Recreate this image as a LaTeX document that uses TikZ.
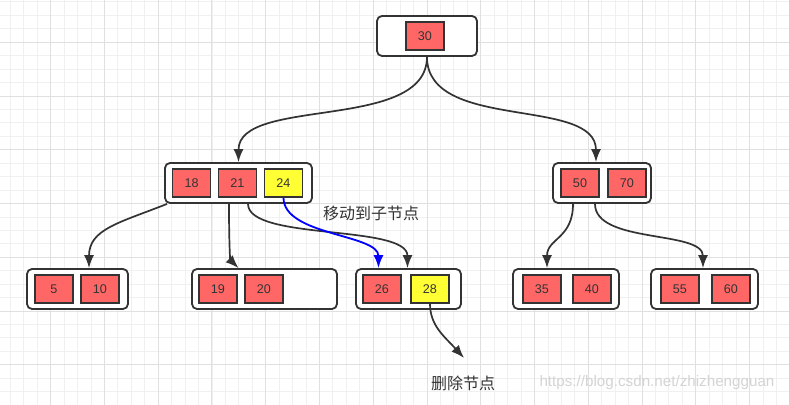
\documentclass[tikz,border=0pt]{standalone}
\usepackage{fontspec}
\setmainfont{Liberation Sans}
\newfontfamily\cjk{Noto Sans CJK SC}
\usetikzlibrary{arrows.meta}
\tikzset{
  >={Latex[length=6.5pt,width=5pt]},
  page/.style ={draw=ink, line width=0.9pt, rounded corners=2.5pt, fill=white,
                minimum height=20pt, inner sep=0pt},
  key/.style  ={draw=ink, line width=0.65pt, fill=keyred, minimum width=19pt,
                minimum height=14pt, inner sep=0pt, text=ink,
                font=\fontsize{6.3}{7}\selectfont},
  hot/.style  ={key, fill=keyyel},
  link/.style ={draw=ink, line width=0.85pt, ->},
  move/.style ={draw=blue, line width=0.9pt, ->},
  note/.style ={text=ink, font=\cjk\fontsize{8}{9}\selectfont},
}
\definecolor{keyred}{RGB}{255,102,102}
\definecolor{keyyel}{RGB}{255,255,51}
\definecolor{ink}{RGB}{51,51,51}
\definecolor{gridminor}{RGB}{240,240,240}
\definecolor{gridmajor}{RGB}{224,224,224}

\begin{document}
\begin{tikzpicture}[x=0.5pt, y=-0.5pt]
  \useasboundingbox (0,0) rectangle (789,405);
  \fill[white] (0,0) rectangle (789,405);

  % grid
  \foreach \i in {0,...,58}
    \draw[gridminor, line width=0.5pt] (10.4+13.44*\i,0) -- (10.4+13.44*\i,405);
  \foreach \i in {0,...,29}
    \draw[gridminor, line width=0.5pt] (0,2+13.44*\i) -- (789,2+13.44*\i);
  \foreach \i in {0,...,13}
    \draw[gridmajor, line width=0.5pt] (50.7+53.76*\i,0) -- (50.7+53.76*\i,405);
  \foreach \i in {0,...,6}
    \draw[gridmajor, line width=0.5pt] (0,42.3+53.76*\i) -- (789,42.3+53.76*\i);

  % root
  \node[page, minimum width=50pt] (root) at (427,36) {};
  \node[key] (k30) at (425,36) {30};

  % second level
  \node[page, minimum width=73.5pt] (n1) at (238.5,183) {};
  \node[key] (k18) at (191.7,183) {18};
  \node[key] (k21) at (237.5,183) {21};
  \node[hot] (k24) at (283.5,183) {24};

  \node[page, minimum width=49pt] (n2) at (602,183) {};
  \node[key] (k50) at (580,183) {50};
  \node[key] (k70) at (627,183) {70};

  % leaves
  \node[page, minimum width=50.5pt] (leaf1) at (77.5,289) {};
  \node[key] (k5)  at (54,289) {5};
  \node[key] (k10) at (100,289) {10};

  \node[page, minimum width=72.5pt] (leaf2) at (264.5,289) {};
  \node[key] (k19) at (218,289) {19};
  \node[key] (k20) at (264,289) {20};

  \node[page, minimum width=52.5pt] (leaf3) at (408.5,289) {};
  \node[key] (k26) at (382,289) {26};
  \node[hot] (k28) at (430,289) {28};

  \node[page, minimum width=53pt] (leaf4) at (566,289) {};
  \node[key] (k35) at (542,289) {35};
  \node[key] (k40) at (592,289) {40};

  \node[page, minimum width=53.5pt] (leaf5) at (704.5,289) {};
  \node[key] (k55) at (680,289) {55};
  \node[key] (k60) at (731,289) {60};

  % labels
  \node[note] (movelbl) at (371,213) {移动到子节点};
  \node[note] (dellbl) at (463,383) {删除节点};
  \node[text=black!17, font=\fontsize{7.6}{8}\selectfont] (wm) at (657,383)
    {https://blog.csdn.net/zhizhengguan};
  \coordinate (delend) at (464,358);

  % links
  \draw[link] (root.south) .. controls +(0,75) and +(0,-66) .. (n1.north);
  \draw[link] (root.south) .. controls +(0,75) and +(0,-66) .. ([xshift=-3pt]n2.north);

  \draw[link] ([xshift=1.5pt]n1.south west) .. controls +(-48,19) and +(0,-39) .. ([xshift=5.75pt]leaf1.north);
  \draw[link] ([xshift=-4.75pt]n1.south) .. controls +(0,47) and +(-8,-8) .. ([xshift=-13pt]leaf2.north);
  \draw[link] ([xshift=4.75pt]n1.south) .. controls +(0,37) and +(0,-44) .. ([xshift=-0.5pt]leaf3.north);
  \draw[move] (k24.south) .. controls +(0,38) and +(0,-34) .. ([xshift=-15pt]leaf3.north);

  \draw[link] ([xshift=-14.5pt]n2.south) .. controls +(0,35) and +(0,-30) .. ([xshift=-9.5pt]leaf4.north);
  \draw[link] ([xshift=-3.5pt]n2.south) .. controls +(0,40) and +(0,-38) .. ([xshift=-0.75pt]leaf5.north);

  \draw[link] (k28.south) .. controls +(0,22) and +(-20,-22) .. (delend);
\end{tikzpicture}
\end{document}
